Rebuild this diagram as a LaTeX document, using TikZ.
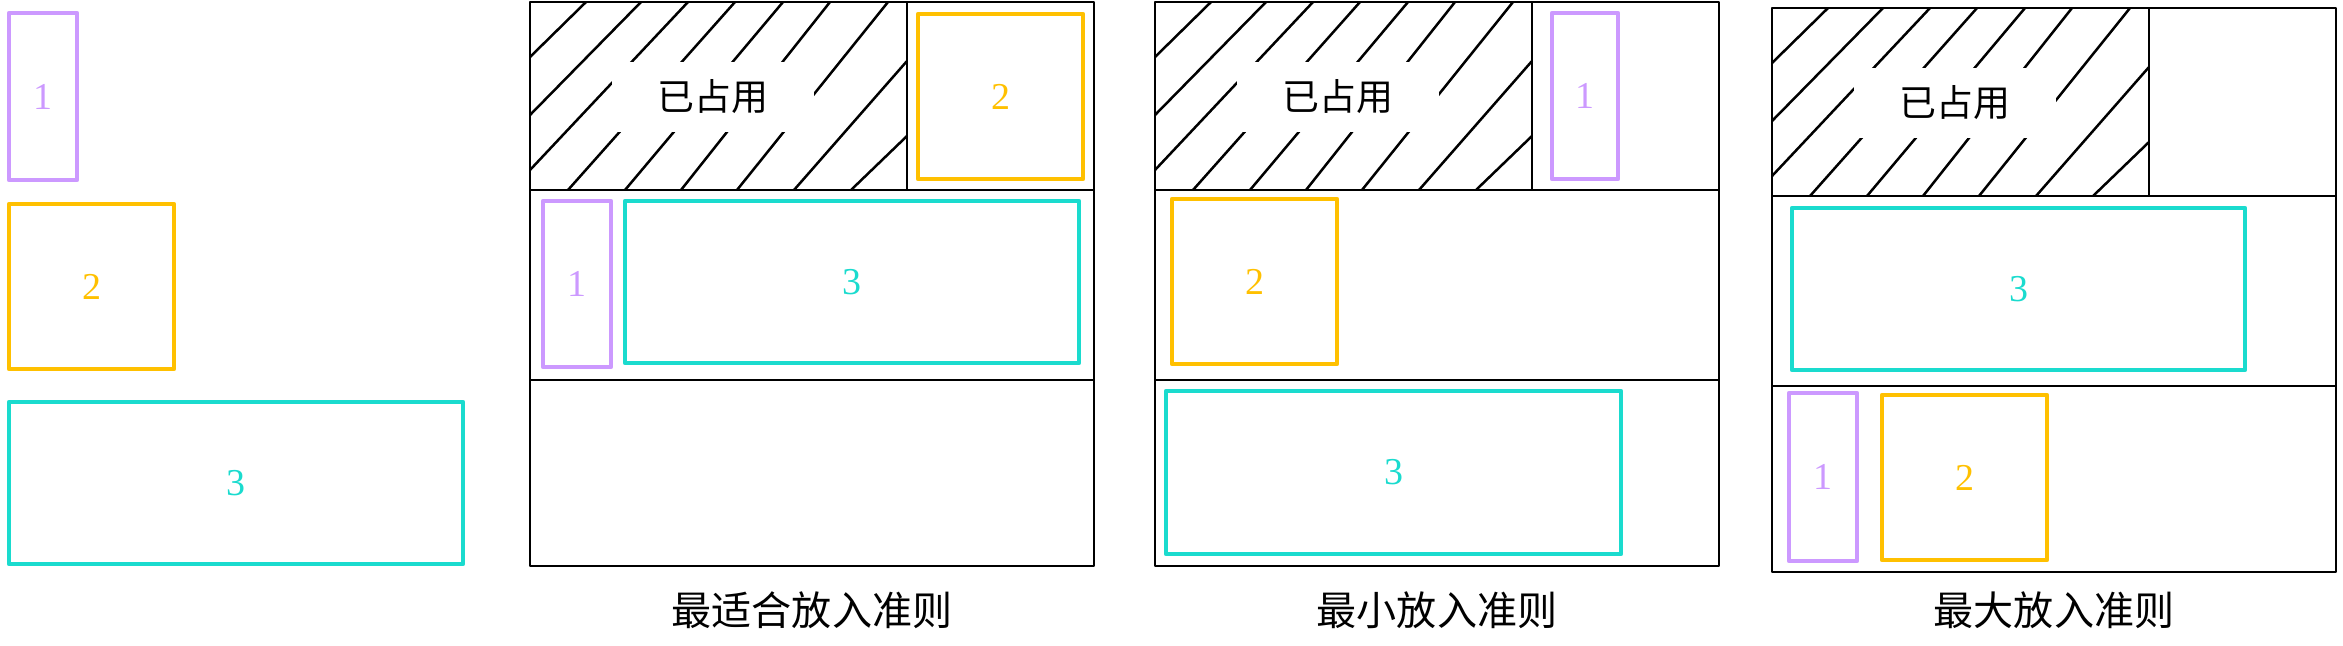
\documentclass[tikz,border=0pt]{standalone}
\usepackage{fontspec}
\setmainfont{Liberation Serif}
\newfontfamily\cjk{Noto Sans CJK SC}
\definecolor{zi}{RGB}{204,153,255}
\definecolor{huang}{RGB}{255,192,0}
\definecolor{qing}{RGB}{26,219,206}

\begin{document}
\begin{tikzpicture}[x=0.01cm,y=-0.01cm,line join=round]
	\tikzstyle{bian}=[line width=0.025cm,draw=black];
	\tikzstyle{xie}=[line width=0.025cm,line cap=round];
	\tikzstyle{tile1}=[line width=0.046cm,draw=zi];
	\tikzstyle{tile2}=[line width=0.046cm,draw=huang];
	\tikzstyle{tile3}=[line width=0.046cm,draw=qing];
	\tikzstyle{num1}=[text=zi,font=\fontsize{10.8}{12}\selectfont];
	\tikzstyle{num2}=[text=huang,font=\fontsize{10.8}{12}\selectfont];
	\tikzstyle{num3}=[text=qing,font=\fontsize{10.8}{12}\selectfont];
	\tikzstyle{zhan}=[fill=white,inner sep=0pt,minimum width=2.01cm,minimum height=0.69cm,font=\cjk\fontsize{10.5}{12}\selectfont];
	\tikzstyle{ming}=[font=\cjk\fontsize{11.4}{13}\selectfont];

	\useasboundingbox (0,0) rectangle (2343,645);

	% the three pieces
	\draw[tile1] (9,13)   rectangle (77,180);
	\draw[tile2] (9,204)  rectangle (174,369);
	\draw[tile3] (9,402)  rectangle (463,564);
	\node[num1] (a1) at (43,96.5)  {1};
	\node[num2] (a2) at (91.5,286.5) {2};
	\node[num3] (a3) at (236,483)  {3};

	% best fit
	\begin{scope}[shift={(530,2)}]
		\draw[bian] (0,0) rectangle (564,564);
		\draw[bian] (0,188) -- (564,188) (0,378) -- (564,378) (377,0) -- (377,188);
		\foreach \a/\b/\c/\d in {0/55/56/0,0/113/111/0,0/168/158/0,38/188/205/0,95/188/253/0,151/188/300/0,207/188/358/0,264/188/377/59,321/188/377/134}
			\draw[xie] (\a,\b) -- (\c,\d);
		\node[zhan] (occ1) at (183,95) {已占用};
		\draw[tile2] (388,12) rectangle (553,177);
		\draw[tile1] (13,199) rectangle (81,365);
		\draw[tile3] (95,199) rectangle (549,361);
		\node[num2] (b2) at (470.5,94.5) {2};
		\node[num1] (b1) at (47,282)     {1};
		\node[num3] (b3) at (322,280)    {3};
		\node[ming] (cap1) at (282,608)  {最适合放入准则};
	\end{scope}

	% smallest
	\begin{scope}[shift={(1155,2)}]
		\draw[bian] (0,0) rectangle (564,564);
		\draw[bian] (0,188) -- (564,188) (0,378) -- (564,378) (377,0) -- (377,188);
		\foreach \a/\b/\c/\d in {0/55/56/0,0/113/111/0,0/168/158/0,38/188/205/0,95/188/253/0,151/188/300/0,207/188/358/0,264/188/377/59,321/188/377/134}
			\draw[xie] (\a,\b) -- (\c,\d);
		\node[zhan] (occ2) at (183,95) {已占用};
		\draw[tile1] (397,11) rectangle (463,177);
		\draw[tile2] (17,197) rectangle (182,362);
		\draw[tile3] (11,389) rectangle (466,552);
		\node[num1] (c1) at (430,94)      {1};
		\node[num2] (c2) at (99.5,279.5)  {2};
		\node[num3] (c3) at (238.5,470.5) {3};
		\node[ming] (cap2) at (282,608)   {最小放入准则};
	\end{scope}

	% largest
	\begin{scope}[shift={(1772,8)}]
		\draw[bian] (0,0) rectangle (564,564);
		\draw[bian] (0,188) -- (564,188) (0,378) -- (564,378) (377,0) -- (377,188);
		\foreach \a/\b/\c/\d in {0/55/56/0,0/113/111/0,0/168/158/0,38/188/205/0,95/188/253/0,151/188/300/0,207/188/358/0,264/188/377/59,321/188/377/134}
			\draw[xie] (\a,\b) -- (\c,\d);
		\node[zhan] (occ3) at (183,95) {已占用};
		\draw[tile3] (20,200) rectangle (473,362);
		\draw[tile1] (17,385) rectangle (85,553);
		\draw[tile2] (110,387) rectangle (275,552);
		\node[num3] (d3) at (246.5,281)   {3};
		\node[num1] (d1) at (51,469)      {1};
		\node[num2] (d2) at (192.5,469.5) {2};
		\node[ming] (cap3) at (282,602)   {最大放入准则};
	\end{scope}
\end{tikzpicture}
\end{document}
